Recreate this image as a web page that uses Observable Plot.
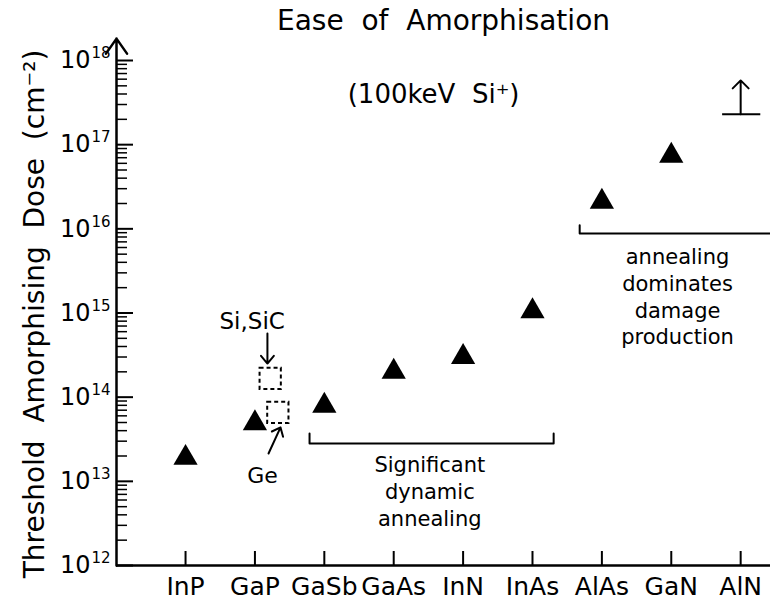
<!DOCTYPE html>
<html><head><meta charset="utf-8">
<script src="https://cdn.jsdelivr.net/npm/d3@7"></script>
<script src="https://cdn.jsdelivr.net/npm/@observablehq/plot@0.6"></script>
<style>
body{margin:0;background:#fff}
svg text{font-family:"DejaVu Sans",sans-serif}
</style>
</head><body><div id="chart"></div>
<script>
// ---- data ----
const materials = ["InP","GaP","GaSb","GaAs","InN","InAs","AlAs","GaN","AlN"];
const thresholdDose = [1.9e13, 4.9e13, 7.9e13, 2.0e14, 3.0e14, 1.05e15, 2.1e16, 7.4e16]; // InP..GaN
const alnLowerBound = 2.3e17;        // AlN: lower bound only
const alnArrowTop = 5.8e17;
const elementalNames = ["Si,SiC","Ge"];
const elementalDose = [1.67e14, 6.6e13];
const elementalX = [1.22, 1.33];      // drawn beside GaP
const yDecades = [1e12,1e13,1e14,1e15,1e16,1e17,1e18];
const title = "Ease\u00a0 of\u00a0 Amorphisation";
const subtitle = "(100keV\u00a0 Si\u207a)";
const yLabel = "Threshold\u00a0 Amorphising\u00a0 Dose\u00a0 (cm\u207b\u00b2)";
// annotations
const noteText = ["Significant\ndynamic\nannealing", "annealing\ndominates\ndamage\nproduction"];
const noteX = [3.52, 7.09];
const noteY = [7.8e12, 1.61e15];
const bracket1X = [1.787, 1.787, 5.305, 5.305];
const bracket1Y = [3.7e13, 2.81e13, 2.81e13, 3.7e13];
const bracket2X = [5.68, 5.68, 8.43];
const bracket2Y = [1.1e16, 8.8e15, 8.8e15];

// ---- layout ----
const W = 770, H = 605, mL = 116, mR = 0, mT = 60, mB = 40;
const frameW = W - mL - mR, frameH = H - mT - mB;
const xDomain = [-0.995, 8.43];

const minorTicks = [];
for (let e = 12; e < 18; e++) for (let m = 2; m <= 9; m++) minorTicks.push(m * 10 ** e);

const idx = materials.map((_, i) => i);
const tri = thresholdDose.map((v, i) => ({x: i, y: v}));
const elem = elementalNames.map((n, i) => ({name: n, x: elementalX[i], y: elementalDose[i]}));
const notes = noteText.map((t, i) => ({text: t, x: noteX[i], y: noteY[i]}));
const b1 = bracket1X.map((x, i) => ({x, y: bracket1Y[i]}));
const b2 = bracket2X.map((x, i) => ({x, y: bracket2Y[i]}));

const chart = Plot.plot({
  width: W, height: H,
  marginLeft: mL, marginRight: mR, marginTop: mT, marginBottom: mB,
  style: {fontFamily: "DejaVu Sans", background: "#fff", color: "#000", overflow: "visible"},
  x: {type: "linear", domain: xDomain},
  y: {type: "log", domain: [1e12, 1e18], axis: null},
  marks: [
    // y tick labels: base and exponent
    Plot.text(yDecades, {y: d => d, frameAnchor: "left", dx: -26, textAnchor: "end", text: () => "10", fontSize: 24}),
    Plot.text(yDecades, {y: d => d, frameAnchor: "left", dx: -25, dy: -7, textAnchor: "start", text: d => String(Math.round(Math.log10(d))), fontSize: 15}),
    // x axis labels
    Plot.axisX({anchor: "bottom", ticks: idx, tickFormat: i => materials[i], tickSize: 0, tickPadding: 12, fontSize: 25, label: null}),
    // y ticks inward
    Plot.tickY(yDecades, {y: d => d, insetRight: frameW - 17, strokeWidth: 2}),
    Plot.tickY(minorTicks, {y: d => d, insetRight: frameW - 11, strokeWidth: 1.5}),
    // x ticks pointing up
    Plot.tickX(idx, {x: d => d, insetTop: frameH - 14, strokeWidth: 2}),
    // axis lines
    Plot.ruleY([1e12], {strokeWidth: 2.5}),
    Plot.arrow([{x1: xDomain[0], y1: 1e12, x2: xDomain[0], y2: 10 ** 18.26}], {x1: "x1", y1: "y1", x2: "x2", y2: "y2", strokeWidth: 2.5, headLength: 11, headAngle: 70}),
    // brackets
    Plot.line(b1, {x: "x", y: "y", strokeWidth: 2}),
    Plot.line(b2, {x: "x", y: "y", strokeWidth: 2}),
    // data
    Plot.dot(tri, {x: "x", y: "y", symbol: "triangle", r: 9, fill: "black", stroke: "none"}),
    Plot.dot(elem, {x: "x", y: "y", symbol: "square", r: 12, fill: "none", stroke: "black", strokeWidth: 2, strokeDasharray: "4,3"}),
    // AlN lower bound
    Plot.ruleY([alnLowerBound], {x1: 7.74, x2: 8.29, strokeWidth: 2}),
    Plot.arrow([{x1: 8, y1: alnLowerBound, x2: 8, y2: alnArrowTop}], {x1: "x1", y1: "y1", x2: "x2", y2: "y2", strokeWidth: 2, headLength: 11, headAngle: 90}),
    // elemental labels & arrows
    Plot.text([{t: "Si,SiC", x: 0.96, y: 7.9e14}], {x: "x", y: "y", text: "t", fontSize: 23}),
    Plot.arrow([{x1: 1.18, y1: 5.7e14, x2: 1.18, y2: 2.51e14}], {x1: "x1", y1: "y1", x2: "x2", y2: "y2", strokeWidth: 2, headLength: 10, headAngle: 80}),
    Plot.text([{t: "Ge", x: 1.11, y: 1.16e13}], {x: "x", y: "y", text: "t", fontSize: 22}),
    Plot.arrow([{x1: 1.196, y1: 2.14e13, x2: 1.369, y2: 4.37e13}], {x1: "x1", y1: "y1", x2: "x2", y2: "y2", strokeWidth: 2, headLength: 10, headAngle: 80}),
    // notes
    Plot.text(notes, {x: "x", y: "y", text: "text", fontSize: 21, lineHeight: 1.28}),
    // subtitle
    Plot.text([subtitle], {x: () => 3.575, y: () => 3.94e17, text: d => d, fontSize: 26}),
    // title
    Plot.text([title], {frameAnchor: "top", dy: -39, lineAnchor: "middle", text: d => d, fontSize: 28}),
    // y label
    Plot.text([yLabel], {frameAnchor: "left", dx: -81, dy: 1, rotate: -90, textAnchor: "middle", lineAnchor: "middle", text: d => d, fontSize: 28})
  ]
});
document.getElementById("chart").appendChild(chart);
</script>
</body></html>
